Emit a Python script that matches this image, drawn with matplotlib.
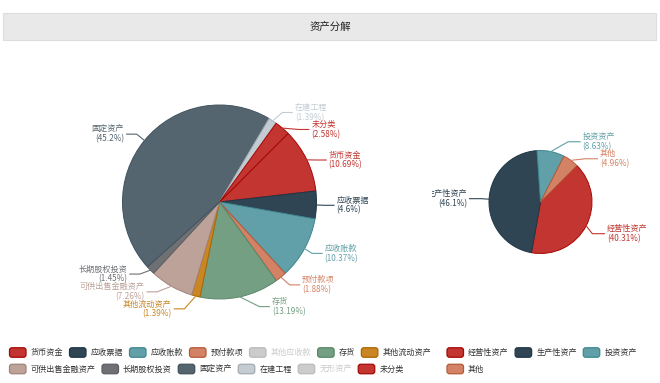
import matplotlib
matplotlib.use('Agg')
import matplotlib.pyplot as plt
import matplotlib.colors as mcolors
import numpy as np
from matplotlib.patches import FancyBboxPatch, Rectangle
from matplotlib.transforms import Bbox, TransformedBbox

plt.rcParams['font.family'] = ['Noto Sans CJK SC', 'DejaVu Sans']

# ---------------- data ----------------
title = '资产分解'

left_names = ['货币资金', '应收票据', '应收账款', '预付款项', '存货', '其他流动资产',
              '可供出售金融资产', '长期股权投资', '固定资产', '在建工程', '未分类']
left_values = [10.69, 4.6, 10.37, 1.88, 13.19, 1.39, 7.26, 1.45, 45.2, 1.39, 2.58]
left_colors = ['#c23531', '#2f4554', '#61a0a8', '#d48265', '#749f83', '#ca8622',
               '#bda29a', '#6e7074', '#546570', '#c4ccd3', '#c23531']

right_names = ['经营性资产', '生产性资产', '投资资产', '其他']
right_values = [40.31, 46.1, 8.63, 4.96]
right_colors = ['#c23531', '#2f4554', '#61a0a8', '#d48265']

left_legend = ['货币资金', '应收票据', '应收账款', '预付款项', '其他应收款', '存货', '其他流动资产',
               '可供出售金融资产', '长期股权投资', '固定资产', '在建工程', '无形资产', '未分类']
hidden_items = ['其他应收款', '无形资产']

# ---------------- figure ----------------
W, H = 660, 383
fig = plt.figure(figsize=(W / 100, H / 100), dpi=100)
ax = fig.add_axes([0, 0, 1, 1])
FS = 5.85
HIDDEN = '#cccccc'


def sy(y):
    return H - y


def edge_of(c):
    h, s, v = mcolors.rgb_to_hsv(mcolors.to_rgb(c))
    return mcolors.hsv_to_rgb((h, min(1.0, s * 1.3), v * 0.85))


# title band
ax.add_patch(Rectangle((3, sy(40)), 653, 27, facecolor='#e9e9e9', edgecolor='#dddddd', lw=0.8))
ax.text(330, sy(26.5), title, ha='center', va='center', fontsize=7.5, color='#222222')


def adjust_side(items, cx, cy, R, L1, L2, d, spacing=17.0):
    items.sort(key=lambda it: it['y'])
    n = len(items)

    def shift_up(end, delta):
        for j in range(end, -1, -1):
            items[j]['y'] -= delta
            if j > 0 and items[j]['y'] > items[j - 1]['y'] + spacing:
                break

    def shift_down(start, end, delta):
        for j in range(start, end):
            items[j]['y'] += delta
            if j > start and j + 1 < end and items[j + 1]['y'] > items[j]['y'] + spacing:
                shift_up(j, delta / 2)
                return
        shift_up(end - 1, delta / 2)

    last = -1e9
    for i in range(n):
        delta = items[i]['y'] - last
        if delta < 0:
            shift_down(i, n, -delta)
        last = items[i]['y'] + spacing

    up = [it for it in items if it['y'] < cy]
    down = [it for it in items if it['y'] >= cy]
    full = R + L1 + L2
    last_dx = 0.0
    for it in up:
        dy = abs(it['y'] - cy)
        dx = np.sqrt(full ** 2 - dy ** 2) if dy < R + L1 else abs(it['x'] - cx)
        if dx <= last_dx:
            dx = last_dx + 7
        it['x'] = cx + d * dx
        last_dx = dx
    last_dx = 1e9
    for it in down:
        dy = abs(it['y'] - cy)
        dx = np.sqrt(full ** 2 - dy ** 2) if dy < R + L1 else abs(it['x'] - cx)
        if dx >= last_dx:
            dx = last_dx - 7
        it['x'] = cx + d * dx
        last_dx = dx


def draw_pie(names, values, colors, cx, cy, R, L1, L2, clip_x=None):
    wedges, _ = ax.pie(values, colors=colors, startangle=45, counterclock=False,
                       center=(cx, sy(cy)), radius=R, frame=True,
                       wedgeprops=dict(linewidth=0.7))
    for w, c in zip(wedges, colors):
        w.set_edgecolor(edge_of(c))
    items = []
    for w, n, v, c in zip(wedges, names, values, colors):
        th = np.deg2rad((w.theta1 + w.theta2) / 2)
        dx, dy = np.cos(th), -np.sin(th)
        items.append(dict(name=n, v=v, c=c,
                          x0=cx + R * dx, y0=cy + R * dy,
                          y=cy + (R + L1) * dy, x=cx + (R + L1 + L2) * dx,
                          d=1 if dx >= 0 else -1))
    for d in (1, -1):
        adjust_side([it for it in items if it['d'] == d], cx, cy, R, L1, L2, d)
    for it in items:
        d = it['d']
        x_end = it['x'] - d * 2.5
        x_elb = x_end - d * L2
        ax.plot([it['x0'], x_elb, x_end], [sy(it['y0']), sy(it['y']), sy(it['y'])],
                color=it['c'], lw=0.8, solid_joinstyle='miter')
        t = ax.text(it['x'], sy(it['y']), f"{it['name']}\n({it['v']:g}%)",
                    ha='left' if d > 0 else 'right', va='center',
                    multialignment='left' if d > 0 else 'right',
                    fontsize=FS, color=it['c'], linespacing=1.1)
        if clip_x is not None:
            t.set_clip_box(TransformedBbox(Bbox([[clip_x, 0], [W, H]]), ax.transData))
            t.set_clip_on(True)


draw_pie(left_names, left_values, left_colors, 219.5, 202, 97, 10, 10)
draw_pie(right_names, right_values, right_colors, 540.5, 202, 51.5, 10, 12, clip_x=432)

# ---------------- legends ----------------
renderer = fig.canvas.get_renderer()
color_map = dict(zip(left_names, left_colors))
color_map.update(dict(zip(right_names, right_colors)))


def draw_legend(names, x0, y0, max_w, row_h=16.5, box_w=16.5, box_h=9.5, gap=6.5):
    x, y = x0, y0
    for n in names:
        off = n in hidden_items
        col = HIDDEN if off else color_map[n]
        t = ax.text(0, 0, n, fontsize=FS, va='center', ha='left',
                    color=HIDDEN if off else '#333333')
        tw = t.get_window_extent(renderer).width
        item_w = box_w + 4.5 + tw
        if x + item_w > x0 + max_w and x > x0:
            x = x0
            y += row_h
        ax.add_patch(FancyBboxPatch((x, sy(y) - box_h / 2), box_w, box_h,
                                    boxstyle='round,pad=0,rounding_size=2.5',
                                    facecolor=col,
                                    edgecolor='#bbbbbb' if off else edge_of(col), lw=0.9))
        t.set_position((x + box_w + 4.5, sy(y)))
        x += item_w + gap


draw_legend(left_legend, 9.5, 352.5, 430)
draw_legend(right_names, 447, 352.5, 200)

ax.set_aspect('auto')
ax.set_xlim(0, W)
ax.set_ylim(0, H)
ax.axis('off')
fig.savefig('out.png', dpi=100)
